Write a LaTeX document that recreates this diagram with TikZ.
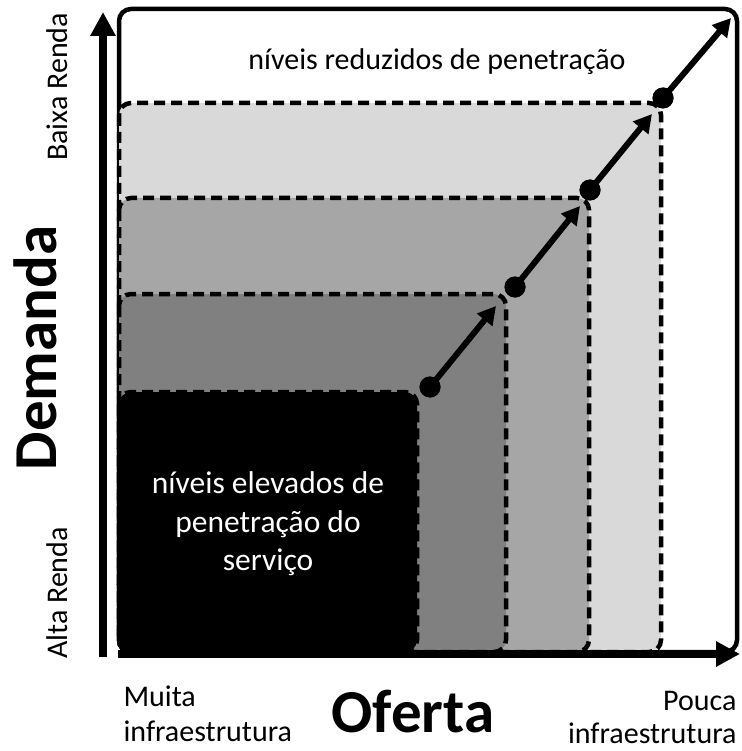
\documentclass[tikz,border=0pt]{standalone}
\usepackage{fontspec}
\setmainfont{Carlito}
\usetikzlibrary{arrows.meta}
\definecolor{zoneA}{HTML}{D9D9D9}
\definecolor{zoneB}{HTML}{A6A6A6}
\definecolor{zoneC}{HTML}{808080}
\begin{document}
\begin{tikzpicture}[x=1pt,y=-1pt,
    zone/.style={draw=black,line width=4.5pt,dash pattern=on 11pt off 6pt,rounded corners=12pt},
    dot/.style={circle,fill=black,inner sep=0pt,minimum size=21pt},
    stepline/.style={line width=6pt,-{Triangle[length=18pt,width=19pt]}},
    axis/.style={line width=8pt,-{Triangle[length=24pt,width=24pt]}},
    lbl/.style={font=\fontsize{30}{36}\selectfont},
    big/.style={font=\fontsize{61}{70}\selectfont\bfseries}]
    \useasboundingbox (0,0) rectangle (741,751);

    % zones
    \draw[line width=4.5pt,rounded corners=12pt] (119,9) rectangle (737,652);
    \draw[zone,fill=zoneA] (119,103) rectangle (661,652);
    \draw[zone,fill=zoneB] (119,198) rectangle (589,652);
    \draw[zone,fill=zoneC] (119,294) rectangle (506,652);
    \draw[zone,fill=black] (119,392) rectangle (417,652);

    % axes
    \coordinate (O) at (103,657);
    \coordinate (Y) at (103,12);
    \coordinate (X0) at (118,654);
    \coordinate (X) at (740,654);
    \draw[axis] (O) -- (Y);
    \draw[axis] (X0) -- (X);

    % steps
    \coordinate (t1) at (496,306);
    \coordinate (t2) at (580,206);
    \coordinate (t3) at (652,114);
    \coordinate (t4) at (731,18);
    \node[dot] (d1) at (430,387) {};
    \node[dot] (d2) at (515,287) {};
    \node[dot] (d3) at (590,190) {};
    \node[dot] (d4) at (663,98) {};
    \draw[stepline] (d1.center) -- (t1);
    \draw[stepline] (d2.center) -- (t2);
    \draw[stepline] (d3.center) -- (t3);
    \draw[stepline] (d4.center) -- (t4);
    \node[dot] at (d1) {};
    \node[dot] at (d2) {};
    \node[dot] at (d3) {};
    \node[dot] at (d4) {};

    % labels
    \node[lbl] (low) at (437,62) {níveis reduzidos de penetração};
    \node[lbl,text=white,align=center,font=\fontsize{31.5}{38.5}\selectfont] (high) at (268,524)
        {níveis elevados de\\penetração do\\serviço};
    \node[big,rotate=90] (dem) at (35,348) {Demanda};
    \node[lbl,rotate=90] (baixa) at (57,87) {Baixa Renda};
    \node[lbl,rotate=90] (alta) at (57,593) {Alta Renda};
    \node[big] (of) at (413,712) {Oferta};
    \node[lbl,align=left,anchor=west,font=\fontsize{30}{35}\selectfont] (muita) at (120,714)
        {Muita\\infraestrutura};
    \node[lbl,align=right,anchor=east,font=\fontsize{30}{33}\selectfont] (pouca) at (740,717)
        {Pouca\\infraestrutura};
\end{tikzpicture}
\end{document}
